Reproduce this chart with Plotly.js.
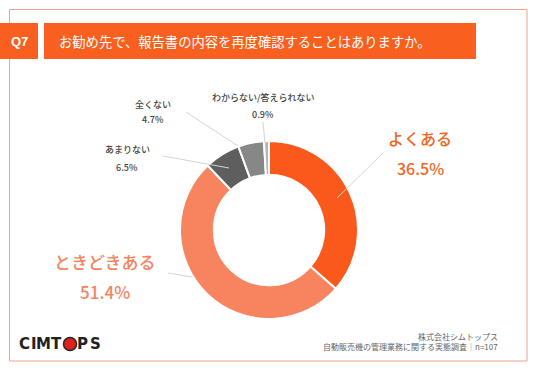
<!DOCTYPE html>
<html><head><meta charset="utf-8">
<script src="https://cdn.plot.ly/plotly-3.0.1.min.js"></script>
<style>body{margin:0;background:#fff}#c{width:536px;height:371px}</style>
</head><body><div id="c"></div>
<script>
const categories = ["よくある", "ときどきある", "あまりない", "全くない", "わからない/答えられない"];
const values = [36.5, 51.4, 6.5, 4.7, 0.9];
const colors = ["#f95a1c", "#f8845f", "#5e5e5e", "#878787", "#b4b4b4"];
const questionNo = "Q7";
const questionText = "お勧め先で、報告書の内容を再度確認することはありますか。";
const footer1 = "株式会社シムトップス";
const footer2 = "自動販売機の管理業務に関する実態調査｜n=107";
const logoLetters = ["C", "I", "M", "T", "", "P", "S"];

const W = 536, H = 371;
const px = x => x / W, py = y => 1 - y / H;
const JP = "Noto Sans CJK JP, Noto Sans, sans-serif";

// label placement (pixel positions) for each category
const labelPos = [
  {x: 420, y: 138, size: 16, color: "#f26522", gap: 30, line: [[383,153],[337,198]]},
  {x: 105, y: 261, size: 17, color: "#f4845f", gap: 30, line: [[168,273],[192,277]]},
  {x: 127, y: 150, size: 9, color: "#444", gap: 17, line: [[163,156],[229,168]]},
  {x: 153, y: 104, size: 9, color: "#444", gap: 16, line: [[186,112],[238,146]]},
  {x: 263, y: 97, size: 9, color: "#444", gap: 17, line: [[263,122],[265,143]]}
];

const annotations = [];
const shapes = [];
categories.forEach((c, i) => {
  const p = labelPos[i];
  annotations.push({x: px(p.x), y: py(p.y), xref: "paper", yref: "paper", text: c, showarrow: false,
    font: {family: JP, size: p.size, color: p.color, weight: 500}, xanchor: "center", yanchor: "middle"});
  annotations.push({x: px(p.x), y: py(p.y + p.gap), xref: "paper", yref: "paper", text: values[i].toFixed(1) + "%", showarrow: false,
    font: {family: JP, size: p.size, color: p.color, weight: 500}, xanchor: "center", yanchor: "middle"});
  shapes.push({type: "line", xref: "paper", yref: "paper", x0: px(p.line[0][0]), y0: py(p.line[0][1]), x1: px(p.line[1][0]), y1: py(p.line[1][1]),
    line: {color: "#d4d4d4", width: 1}, layer: "above"});
});

// frame, header boxes
shapes.unshift(
  {type: "rect", xref: "paper", yref: "paper", x0: px(9.5), x1: px(527), y0: py(9.5), y1: py(361), line: {color: "#e8a688", width: 1}, fillcolor: "rgba(0,0,0,0)", layer: "below"},
  {type: "rect", xref: "paper", yref: "paper", x0: px(0), x1: px(38), y0: py(23), y1: py(59), line: {width: 0}, fillcolor: "#f95f1e", layer: "below"},
  {type: "rect", xref: "paper", yref: "paper", x0: px(44), x1: px(476), y0: py(23), y1: py(59), line: {width: 0}, fillcolor: "#f95f1e", layer: "below"}
);
// logo red O
shapes.push({type: "circle", xref: "paper", yref: "paper", x0: px(63.5), x1: px(76.5), y0: py(337.5), y1: py(350.5), line: {color: "#2a2a2a", width: 1.5}, fillcolor: "#e0201a", layer: "above"});
const logoCenters = [24, 33.5, 43.5, 56, 70, 82.5, 95.5];
logoLetters.forEach((l, i) => {
  if (!l) return;
  annotations.push({x: px(logoCenters[i]), y: py(344), xref: "paper", yref: "paper", text: "<b>" + l + "</b>", showarrow: false,
    font: {family: "DejaVu Sans, Liberation Sans", size: 15, color: "#222"}, xanchor: "center", yanchor: "middle"});
});

annotations.push(
  {x: px(19), y: py(41), xref: "paper", yref: "paper", text: "<b>" + questionNo + "</b>", showarrow: false, font: {family: "Liberation Sans, Arial", size: 13, color: "#fff"}, xanchor: "center", yanchor: "middle"},
  {x: px(57), y: py(41), xref: "paper", yref: "paper", text: questionText, showarrow: false, font: {family: JP, size: 13.3, color: "#fff"}, xanchor: "left", yanchor: "middle"},
  {x: px(500), y: py(336), xref: "paper", yref: "paper", text: footer1, showarrow: false, font: {family: JP, size: 8, color: "#666"}, xanchor: "right", yanchor: "middle"},
  {x: px(500), y: py(346), xref: "paper", yref: "paper", text: footer2, showarrow: false, font: {family: JP, size: 8, color: "#666"}, xanchor: "right", yanchor: "middle"}
);

const trace = {
  type: "pie", labels: categories, values: values, sort: false, direction: "clockwise", rotation: 0,
  hole: 0.62, marker: {colors: colors, line: {color: "#fff", width: 2}}, textinfo: "none", hoverinfo: "label+percent",
  domain: {x: [px(180), px(358)], y: [py(319), py(141)]}, showlegend: false
};

Plotly.newPlot("c", [trace], {
  width: W, height: H, margin: {l: 0, r: 0, t: 0, b: 0},
  paper_bgcolor: "#fff", plot_bgcolor: "#fff", showlegend: false,
  shapes: shapes, annotations: annotations
}, {displayModeBar: false, staticPlot: true});
</script></body></html>
